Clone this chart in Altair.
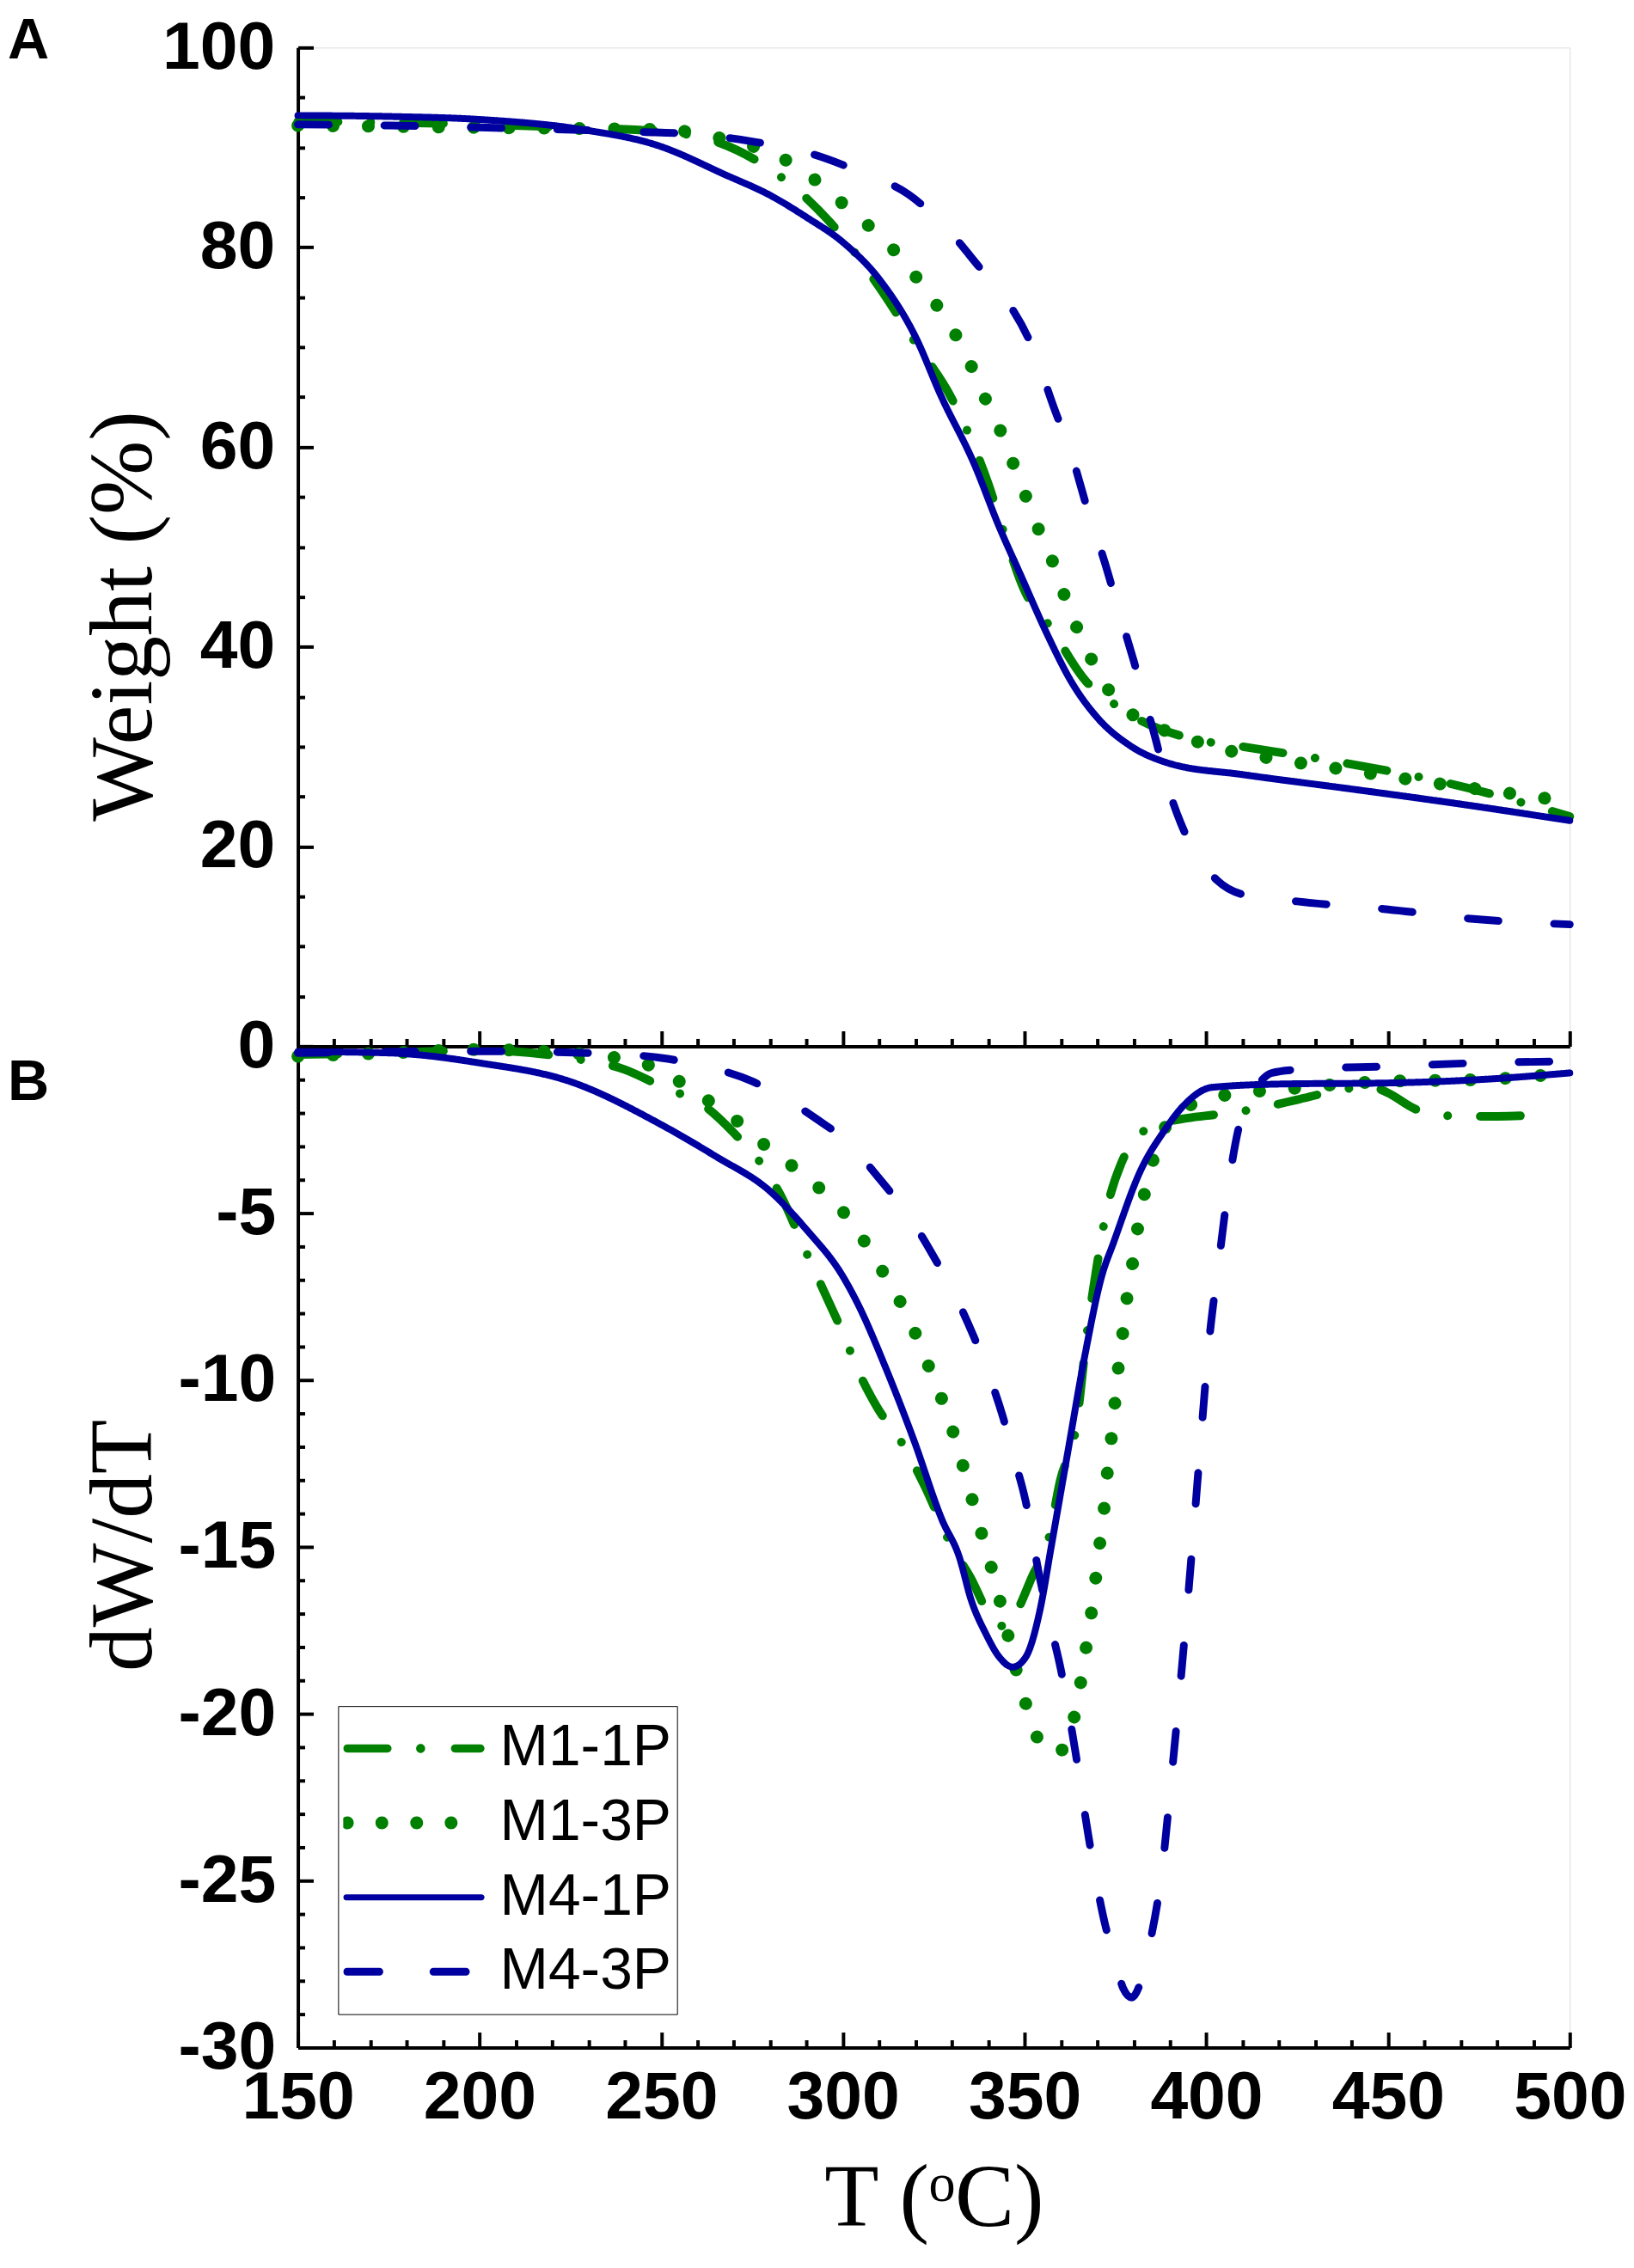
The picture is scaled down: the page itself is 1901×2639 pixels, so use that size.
import altair as alt
import pandas as pd

SERIES = ["M1-1P", "M1-3P", "M4-1P", "M4-3P"]
COLORS = ["#008000", "#008000", "#0000A0", "#0000A0"]
DASHES = [[47, 38, 0.1, 38], [0.1, 41], [1, 0], [36, 65]]
WIDTHS = [10, 15, 8, 9]

# ---------------- Panel A: Weight (%) ----------------
A_M11_T = [150, 175, 200, 225, 250, 265, 280, 290, 300, 310, 320, 330, 340, 345, 350, 357, 367, 373, 382, 396, 410, 439, 467, 500]
A_M11_W = [92.6, 92.5, 92.3, 92.0, 91.6, 90.6, 87.8, 84.9, 81.0, 76.0, 70.4, 64.8, 56.3, 50.6, 45.6, 42.0, 36.5, 34.7, 32.6, 30.8, 30.0, 28.3, 26.3, 23.0]

A_M13_T = [150, 175, 200, 225, 250, 270, 280, 290, 297, 303, 310, 316, 322, 328, 333, 337, 341, 345, 348, 352, 355, 359, 362, 366, 370, 377, 385, 395, 405, 420, 440, 460, 480, 500]
A_M13_W = [92.2, 92.1, 92.0, 91.9, 91.8, 90.6, 89.5, 87.4, 85.3, 83.4, 81.2, 78.9, 76.1, 73.0, 69.9, 66.7, 63.3, 60.3, 57.1, 53.6, 50.6, 47.4, 43.9, 40.7, 37.5, 34.0, 32.2, 30.8, 29.7, 28.7, 27.6, 26.5, 25.5, 24.5]

A_M41_T = [150, 175, 200, 228, 249, 268, 280, 290, 300, 310, 320, 327, 336, 343, 349, 356, 363, 370, 379, 390, 410, 439, 467, 500]
A_M41_W = [93.2, 93.1, 92.8, 91.8, 90.2, 87.2, 85.2, 83.0, 80.5, 76.8, 71.0, 65.1, 58.4, 52.0, 47.1, 41.4, 36.4, 32.9, 30.1, 28.3, 27.2, 25.8, 24.4, 22.6]

A_M43_T = [150, 175, 200, 240, 260, 275, 290, 305, 318, 328, 338, 345, 352, 358, 363, 367, 372, 376, 380, 383, 386, 389, 393, 398, 403, 410, 425, 450, 475, 500]
A_M43_W = [92.3, 92.2, 92.0, 91.6, 91.3, 90.6, 89.5, 87.5, 85.3, 82.1, 77.8, 74.7, 70.1, 64.0, 59.1, 54.1, 48.5, 43.5, 38.6, 34.7, 30.8, 26.5, 22.3, 18.8, 16.6, 15.2, 14.5, 13.7, 12.7, 12.2]

# ---------------- Panel B: dW/dT ----------------
B_M11_T = [150, 175, 200, 225, 240, 250, 262, 270, 278, 283, 290, 295, 300, 304.5, 309.3, 316.3, 322.6, 330, 335, 340.7, 345, 348, 352, 356.5, 359.8, 364, 367.5, 369.7, 372.2, 376.6, 385, 395, 402.5, 413.5, 425, 435, 445, 450, 458, 470, 480, 492]
B_M11_D = [-0.25, -0.2, -0.12, -0.35, -0.7, -1.2, -1.8, -2.6, -3.6, -4.5, -6.2, -7.4, -8.6, -9.8, -10.8, -11.9, -13.2, -15.0, -15.9, -17.1, -17.4, -16.9, -15.9, -14.8, -13.0, -11.5, -8.3, -6.7, -5.1, -3.5, -2.4, -2.15, -2.05, -1.88, -1.6, -1.35, -1.2, -1.4, -1.9, -2.1, -2.1, -2.05]

B_M13_T = [150, 175, 200, 230, 250, 258, 267.5, 280, 293, 304.5, 308.8, 313, 317.3, 321.5, 325, 328.7, 331.5, 334.4, 336.8, 339.5, 342, 346.4, 348.6, 351.6, 355, 358.5, 361.8, 364.2, 365.8, 367.2, 368.7, 369.8, 370.9, 372.1, 372.9, 374, 374.9, 375.9, 377.1, 378.2, 379.7, 381.1, 382.8, 383.9, 386.5, 390, 397.8, 406, 420, 450, 475, 500]
B_M13_D = [-0.3, -0.2, -0.1, -0.25, -0.7, -1.3, -1.95, -3.1, -4.2, -5.6, -6.4, -7.1, -8.0, -9.0, -10.0, -11.0, -12.0, -13.1, -14.1, -15.1, -16.1, -18.1, -19.1, -20.1, -21.05, -21.2, -20.8, -19.8, -18.8, -17.8, -16.7, -15.7, -14.7, -13.6, -12.6, -11.6, -10.6, -9.5, -8.5, -7.5, -6.5, -5.45, -4.5, -4.0, -3.0, -2.2, -1.66, -1.45, -1.3, -1.05, -1.0, -0.8]

B_M41_T = [150, 175, 200, 225, 250, 265, 280, 290, 300, 304, 312, 319.5, 327.3, 332, 335.3, 339.3, 343, 346.7, 350.3, 354.2, 357.3, 361.8, 366.5, 371.3, 374.4, 382, 388.3, 393.8, 401.6, 421, 450, 475, 500]
B_M41_D = [-0.16, -0.2, -0.5, -1.06, -2.35, -3.3, -4.35, -5.5, -6.9, -7.7, -9.7, -11.8, -14.2, -15.3, -16.6, -17.6, -18.3, -18.6, -18.3, -16.9, -15.0, -12.2, -9.3, -6.85, -5.9, -3.7, -2.55, -1.77, -1.23, -1.13, -1.1, -1.0, -0.8]

B_M43_T = [150, 200, 230, 250, 262, 275, 283, 295, 302, 308, 314, 320, 326, 331, 336, 340, 344, 347, 350.2, 354.1, 357, 360, 363.9, 367.6, 372.1, 375, 377, 379.5, 382, 384, 388, 390.4, 392.6, 394.8, 396.7, 398.6, 400.6, 403.5, 406.6, 409, 411, 414.6, 418, 425, 450, 475, 500]
B_M43_D = [-0.2, -0.15, -0.2, -0.35, -0.6, -1.05, -1.5, -2.35, -2.9, -3.7, -4.5, -5.4, -6.5, -7.5, -8.7, -9.8, -11.1, -12.3, -13.6, -15.9, -17.3, -18.7, -21.1, -23.7, -26.3, -27.4, -28.2, -28.5, -28.0, -27.1, -24.5, -21.9, -19.4, -16.7, -14.2, -11.6, -9.0, -6.4, -3.8, -2.4, -1.8, -1.1, -0.8, -0.7, -0.6, -0.5, -0.45]

X_MAJOR = [150, 200, 250, 300, 350, 400, 450, 500]
X_MINOR = [160, 170, 180, 190, 210, 220, 230, 240, 260, 270, 280, 290, 310, 320, 330, 340,
           360, 370, 380, 390, 410, 420, 430, 440, 460, 470, 480, 490]
YA_MAJOR = [0, 20, 40, 60, 80, 100]
YA_MINOR = [5, 10, 15, 25, 30, 35, 45, 50, 55, 65, 70, 75, 85, 90, 95]
YB_LABELS = [-30, -25, -20, -15, -10, -5]
YB_MAJOR = [-30, -25, -20, -15, -10, -5, 0]
YB_MINOR = [v for v in range(-29, 0) if v % 5 != 0]


# ---- legend symbol shapes (unit box -1..1), drawn like the line styles
def capsule(x1, x2, h):
    return (f"M{x1 + h:.3f},{-h:.3f}L{x2 - h:.3f},{-h:.3f}A{h:.3f},{h:.3f} 0 0 1 {x2 - h:.3f},{h:.3f}"
            f"L{x1 + h:.3f},{h:.3f}A{h:.3f},{h:.3f} 0 0 1 {x1 + h:.3f},{-h:.3f}Z")


def dot(cx, r):
    return f"M{cx - r:.3f},0A{r:.3f},{r:.3f} 0 1 0 {cx + r:.3f},0A{r:.3f},{r:.3f} 0 1 0 {cx - r:.3f},0Z"


LEGEND_SHAPES = [
    capsule(-1.0, -0.316, 0.057) + dot(0.096, 0.064) + capsule(0.525, 1.0, 0.057),
    dot(-0.942, 0.091) + dot(-0.453, 0.091) + dot(0.040, 0.091) + dot(0.528, 0.091),
    capsule(-1.0, 1.0, 0.042),
    capsule(-1.0, -0.433, 0.055) + capsule(0.222, 0.792, 0.055),
]


def table(parts):
    rows = []
    for name, ts, vs in parts:
        for t, v in zip(ts, vs):
            rows.append({"series": name, "T": t, "v": v})
    return pd.DataFrame(rows)


dfA = table([("M1-1P", A_M11_T, A_M11_W), ("M1-3P", A_M13_T, A_M13_W),
             ("M4-1P", A_M41_T, A_M41_W), ("M4-3P", A_M43_T, A_M43_W)])
dfB = table([("M1-1P", B_M11_T, B_M11_D), ("M1-3P", B_M13_T, B_M13_D),
             ("M4-1P", B_M41_T, B_M41_D), ("M4-3P", B_M43_T, B_M43_D)])

W = 1486
HA = 1167
HB = 1170

LBL = dict(labelFont="Liberation Sans", labelFontSize=79, labelFontWeight="bold", labelColor="black",
           labelFlush=False, labelOverlap=False, labelExpr="'' + datum.value")
TTL = dict(titleFont="Liberation Serif", titleFontSize=104, titleFontWeight="normal", titleColor="black")
TICK_ONLY = dict(labels=False, domain=False, grid=False, title=None, tickColor="black", tickWidth=4)

xscale = alt.Scale(domain=[150, 500], nice=False, zero=False)
yscaleA = alt.Scale(domain=[0, 100], nice=False, zero=False)
yscaleB = alt.Scale(domain=[-30, 0], nice=False, zero=False)


def series_line(i):
    return alt.Chart().transform_filter(alt.datum.series == SERIES[i]).mark_line(
        color=COLORS[i], strokeDash=DASHES[i], strokeWidth=WIDTHS[i],
        strokeCap="round", strokeJoin="round", interpolate="monotone")


# ---------------- panel A ----------------
axA_x = [
    alt.Axis(orient="top", offset=-HA, values=X_MAJOR, tickSize=18, labels=False, domain=True, domainWidth=4,
             domainColor="black", tickColor="black", tickWidth=4, grid=False, title=None),
    alt.Axis(orient="top", offset=-HA, values=X_MINOR, tickSize=9, **TICK_ONLY),
    None,
    None,
]
axA_y = [
    alt.Axis(orient="left", values=YA_MAJOR, ticks=False, tickSize=0, labelPadding=27, domainWidth=4,
             domainColor="black", grid=False, title="Weight (%)", titleX=-172, titleY=664, titleAngle=270,
             titleAlign="center", titleBaseline="alphabetic", **LBL, **TTL),
    alt.Axis(orient="right", offset=-W, values=YA_MAJOR, tickSize=18, **TICK_ONLY),
    alt.Axis(orient="right", offset=-W, values=YA_MINOR, tickSize=8, **TICK_ONLY),
    None,
]
layersA = [series_line(i).encode(x=alt.X("T:Q", scale=xscale, axis=axA_x[i]),
                                 y=alt.Y("v:Q", scale=yscaleA, axis=axA_y[i])) for i in range(4)]
panelA = alt.layer(*layersA, data=dfA).resolve_axis(x="independent", y="independent").properties(
    width=W, height=HA,
    title=alt.TitleParams("A", anchor="start", frame="group", orient="top", font="Liberation Sans",
                          fontSize=67, fontWeight="bold", color="black", dx=-339, baseline="top", offset=-66),
)

# ---------------- panel B ----------------
axB_x = [
    alt.Axis(orient="bottom", values=X_MAJOR, ticks=False, tickSize=0, labelPadding=20, domainWidth=4,
             domainColor="black", grid=False, title="T (ᵒC)", titleY=208, titleBaseline="alphabetic",
             **LBL, **TTL),
    alt.Axis(orient="top", offset=-HB, values=X_MAJOR, tickSize=18, **TICK_ONLY),
    alt.Axis(orient="top", offset=-HB, values=X_MINOR, tickSize=9, **TICK_ONLY),
    alt.Axis(orient="bottom", offset=-HB, ticks=False, labels=False, domain=True, domainWidth=4,
             domainColor="black", grid=False, title=None),
]
axB_y = [
    alt.Axis(orient="left", values=YB_LABELS, ticks=False, tickSize=0, labelPadding=26, domainWidth=4,
             domainColor="black", grid=False, title="dW/dT", titleX=-172, titleY=583, titleAngle=270,
             titleAlign="center", titleBaseline="alphabetic", **LBL, **TTL),
    alt.Axis(orient="right", offset=-W, values=YB_MAJOR, tickSize=18, **TICK_ONLY),
    alt.Axis(orient="right", offset=-W, values=YB_MINOR, tickSize=8, **TICK_ONLY),
    None,
]
layersB = [series_line(i).encode(x=alt.X("T:Q", scale=xscale, axis=axB_x[i]),
                                 y=alt.Y("v:Q", scale=yscaleB, axis=axB_y[i])) for i in range(4)]

legend = alt.Legend(title=None, orient="none", legendX=47, legendY=771, symbolSize=27225,
                    labelFont="Liberation Sans", labelFontSize=68, labelColor="black", labelLimit=0,
                    labelOffset=18, strokeColor="black", fillColor="white",
                    padding=6, rowPadding=0, clipHeight=87, symbolStrokeWidth=0)
legend_layer = alt.Chart().transform_filter("false").mark_point(filled=True, opacity=1).encode(
    x=alt.X("T:Q", scale=xscale, axis=None),
    y=alt.Y("v:Q", scale=yscaleB, axis=None),
    color=alt.Color("series:N", scale=alt.Scale(domain=SERIES, range=COLORS), legend=legend),
    shape=alt.Shape("series:N", scale=alt.Scale(domain=SERIES, range=LEGEND_SHAPES), legend=legend),
)

panelB = alt.layer(*layersB, legend_layer, data=dfB).resolve_axis(x="independent", y="independent").properties(
    width=W, height=HB,
    title=alt.TitleParams("B", anchor="start", frame="group", orient="top", font="Liberation Sans",
                          fontSize=67, fontWeight="bold", color="black", dx=-339, baseline="top", offset=-80),
)

chart = alt.vconcat(panelA, panelB, spacing=0, bounds="flush").resolve_scale(
    color="independent", shape="independent"
).properties(
    padding={"left": 0, "top": 0, "right": 0, "bottom": 4}
).configure_view(stroke=None).configure(background="white")

chart.save("out.html", embed_options={"renderer": "svg", "actions": False})
